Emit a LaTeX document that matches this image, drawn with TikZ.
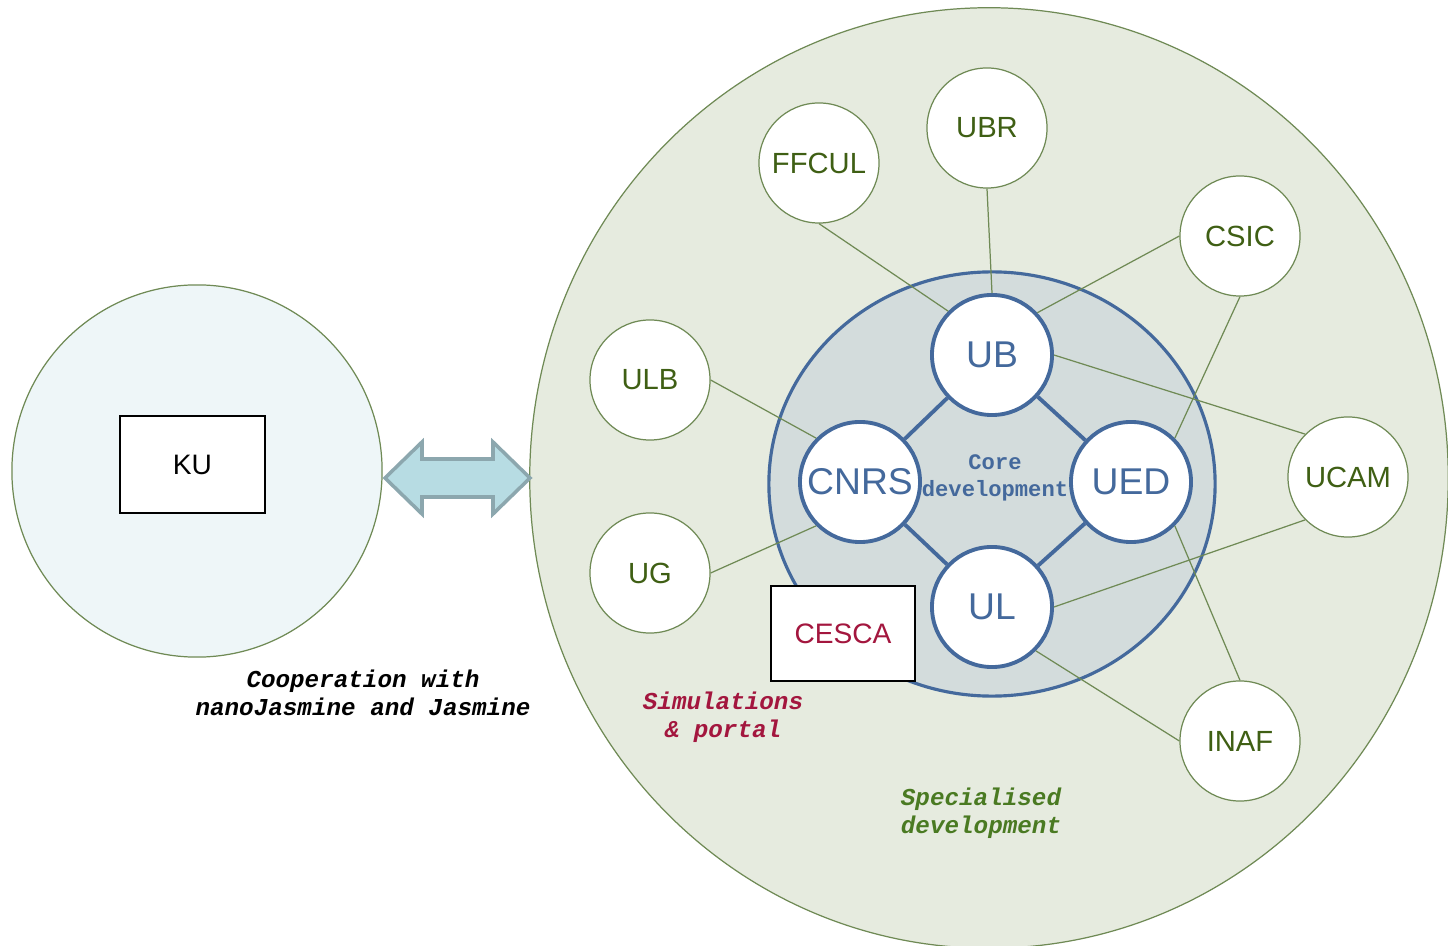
\documentclass[tikz,border=0pt]{standalone}
\usepackage{fontspec}
\setmainfont{Liberation Sans}
\newfontfamily\monof{Liberation Mono}
\usetikzlibrary{shapes.geometric}
\definecolor{outerfill}{HTML}{E6EBDF}
\definecolor{olive}{HTML}{6F8A55}
\definecolor{lblgreen}{HTML}{3F5F14}
\definecolor{innerfill}{HTML}{D3DCDC}
\definecolor{coreblue}{HTML}{44699C}
\definecolor{kufill}{HTML}{EEF6F8}
\definecolor{arrfill}{HTML}{B7DCE3}
\definecolor{arrdraw}{HTML}{8CA7AE}
\definecolor{crimson}{HTML}{A3163E}
\definecolor{specgreen}{HTML}{4A7A22}
\tikzset{
  partner/.style={circle, draw=olive, line width=0.35pt, fill=white, minimum size=1.2cm, inner sep=0pt, text=lblgreen, font=\fontsize{8.3}{10}\selectfont},
  core/.style={circle, draw=coreblue, line width=1.1pt, fill=white, minimum size=1.2cm, inner sep=0pt, text=coreblue, font=\fontsize{10.6}{12}\selectfont},
  link/.style={draw=olive, line width=0.35pt},
  corelink/.style={draw=coreblue, line width=1.1pt},
  monolabel/.style={align=center, font=\monof\bfseries\itshape\fontsize{6.9}{8}\selectfont, inner sep=0pt},
}
\begin{document}
\begin{tikzpicture}[x=0.01cm, y=-0.01cm]
\useasboundingbox (0,0) rectangle (1448,946);
% outer circles
\node[ellipse, draw=olive, line width=0.35pt, fill=outerfill, minimum width=9.18cm, minimum height=9.4cm, inner sep=0pt] (outer) at (989,478) {};
\node[ellipse, draw=olive, line width=0.35pt, fill=kufill, minimum width=3.7cm, minimum height=3.72cm, inner sep=0pt] (kucircle) at (197,471) {};
\node[ellipse, draw=coreblue, line width=0.9pt, fill=innerfill, minimum width=4.46cm, minimum height=4.24cm, inner sep=0pt] (inner) at (992,484) {};
% KU box
\node[draw=black, line width=0.8pt, fill=white, minimum width=1.45cm, minimum height=0.97cm, inner sep=0pt, font=\fontsize{8}{10}\selectfont] (ku) at (192.5,464.5) {KU};
% arrow
\draw[fill=arrfill, draw=arrdraw, line width=1pt, line join=miter]
  (385,478) -- (422,442) -- (422,459) -- (493,459) -- (493,442) -- (530,478)
  -- (493,514) -- (493,497) -- (422,497) -- (422,514) -- cycle;
% nodes
\node[core] (ub) at (992,355) {UB};
\node[core] (cnrs) at (860,482) {CNRS};
\node[core] (ued) at (1131,482) {UED};
\node[core] (ul) at (992,607) {UL};
\node[partner] (ffcul) at (819,163) {FFCUL};
\node[partner] (ubr) at (987,128) {UBR};
\node[partner] (csic) at (1240,236) {CSIC};
\node[partner] (ulb) at (650,380) {ULB};
\node[partner] (ucam) at (1348,477) {UCAM};
\node[partner] (ug) at (650,573) {UG};
\node[partner] (inaf) at (1240,741) {INAF};
% links
\draw[link] (ffcul.south) -- (ub.135);
\draw[link] (ubr.south) -- (ub.north);
\draw[link] (csic.west) -- (ub.43);
\draw[link] (csic.south) -- (ued.45);
\draw[link] (ub.east) -- (ucam.135);
\draw[link] (ulb.east) -- (cnrs.135);
\draw[link] (ug.east) -- (cnrs.225);
\draw[link] (ucam.225) -- (ul.east);
\draw[link] (ued.-45) -- (inaf.north);
\draw[link] (ul.-45) -- (inaf.west);
\draw[corelink] (ub) -- (cnrs);
\draw[corelink] (ub) -- (ued);
\draw[corelink] (cnrs) -- (ul);
\draw[corelink] (ued) -- (ul);
% CESCA
\node[draw=black, line width=0.6pt, fill=white, minimum width=1.44cm, minimum height=0.95cm, inner sep=0pt, text=crimson, font=\fontsize{8}{10}\selectfont] (cesca) at (843,633.5) {CESCA};
% labels
\node[monolabel, font=\monof\bfseries\fontsize{6.3}{7.6}\selectfont, text=coreblue] (corelbl) at (995,478) {Core\\development};
\node[monolabel, text=black] (coop) at (363,693) {Cooperation with\\nanoJasmine and Jasmine};
\node[monolabel, text=crimson] (sim) at (723,717) {Simulations\\\& portal};
\node[monolabel, text=specgreen] (spec) at (981,813) {Specialised\\development};
\end{tikzpicture}
\end{document}
